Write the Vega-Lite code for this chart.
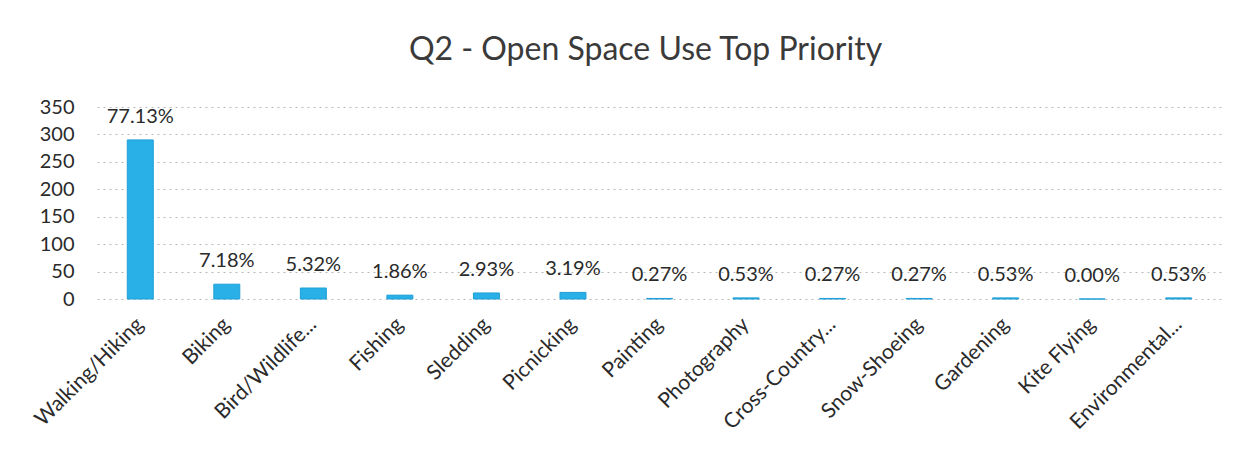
{
  "$schema": "https://vega.github.io/schema/vega-lite/v6.json",
  "width": 1125,
  "height": 192,
  "autosize": {"type": "none"},
  "padding": {"left": 97, "top": 107, "right": 21, "bottom": 158},
  "background": "white",
  "config": {"view": {"stroke": null}, "font": "Lato"},
  "title": {"text": "Q2 - Open Space Use Top Priority", "fontSize": 32, "font": "Lato", "fontWeight": "normal", "color": "#3a3a3a", "anchor": "middle", "offset": 30, "dx": -14},
  "data": {"values": [
    {"activity": "Walking/Hiking", "count": 290, "pct": "77.13%"},
    {"activity": "Biking", "count": 27, "pct": "7.18%"},
    {"activity": "Bird/Wildlife...", "count": 20, "pct": "5.32%"},
    {"activity": "Fishing", "count": 7, "pct": "1.86%"},
    {"activity": "Sledding", "count": 11, "pct": "2.93%"},
    {"activity": "Picnicking", "count": 12, "pct": "3.19%"},
    {"activity": "Painting", "count": 1, "pct": "0.27%"},
    {"activity": "Photography", "count": 2, "pct": "0.53%"},
    {"activity": "Cross-Country...", "count": 1, "pct": "0.27%"},
    {"activity": "Snow-Shoeing", "count": 1, "pct": "0.27%"},
    {"activity": "Gardening", "count": 2, "pct": "0.53%"},
    {"activity": "Kite Flying", "count": 0, "pct": "0.00%"},
    {"activity": "Environmental...", "count": 2, "pct": "0.53%"}
  ]},
  "encoding": {
    "x": {"field": "activity", "type": "nominal", "sort": null,
      "scale": {"paddingInner": 0.7, "paddingOuter": 0.35},
      "axis": {"title": null, "labelAngle": -45, "labelAlign": "right", "labelBaseline": "middle", "labelFontSize": 21, "labelColor": "#2a2a2a", "labelPadding": 22, "ticks": false, "domain": false, "labelFont": "Lato"}},
    "y": {"field": "count", "type": "quantitative",
      "scale": {"domain": [0, 350]},
      "axis": {"title": null, "values": [0, 50, 100, 150, 200, 250, 300, 350], "labelFontSize": 20, "labelColor": "#2a2a2a", "labelPadding": 23, "ticks": false, "domain": false, "grid": true, "gridColor": "#b8b8b8", "gridDash": [2, 4], "gridWidth": 1, "labelFont": "Lato"}}
  },
  "layer": [
    {"mark": {"type": "bar", "color": "#29B0E6", "stroke": "#1E9FD8", "strokeWidth": 1}},
    {"mark": {"type": "text", "baseline": "alphabetic", "dy": -17, "fontSize": 20, "color": "#2a2a2a", "font": "Lato"},
     "encoding": {"text": {"field": "pct", "type": "nominal"}}}
  ]
}
